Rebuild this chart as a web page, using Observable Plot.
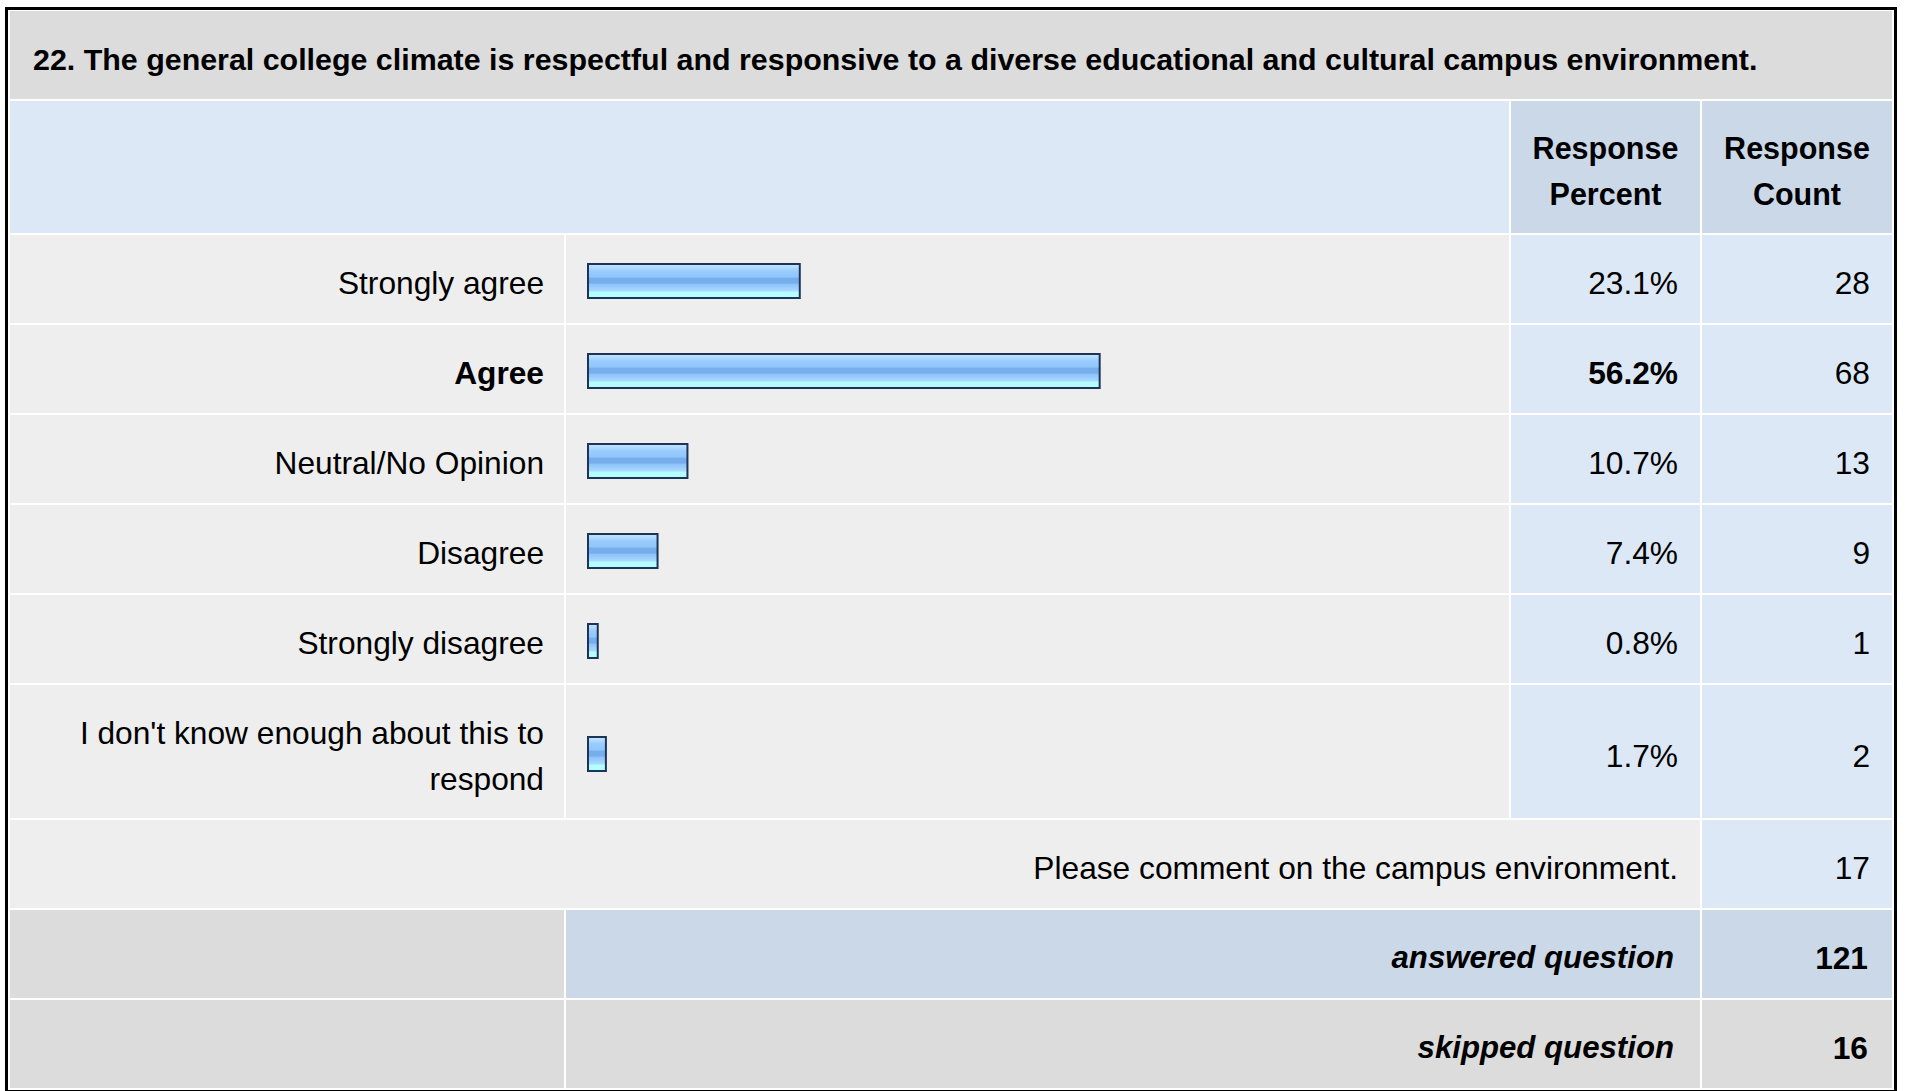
<!DOCTYPE html>
<html>
<head>
<meta charset="utf-8">
<script src="https://cdn.jsdelivr.net/npm/d3@7"></script>
<script src="https://cdn.jsdelivr.net/npm/@observablehq/plot@0.6"></script>
<style>
  html, body { margin: 0; padding: 0; background: #ffffff; }
  body { width: 1907px; height: 1091px; overflow: hidden; position: relative;
         font-family: "Liberation Sans", Arial, sans-serif; color: #000; }
  #box { position: absolute; left: 5px; top: 7px; border: 3px solid #000;
         padding: 1px 2px 2px 2px; background: #fff;
         display: grid; grid-template-columns: 554px 943px 189px 190px;
         grid-auto-rows: 88px; gap: 2px; }
  .cell { display: flex; align-items: center; font-size: 31.7px; line-height: 46px; box-sizing: border-box; padding-top: 8px; }
  .bar { padding-top: 0; }
  .title { grid-column: 1 / 5; background: #dcdcdc; font-weight: bold; font-size: 30.4px; padding-left: 23px; padding-top: 7px; }
  .hdrblank { grid-column: 1 / 3; background: #dce8f6; }
  .hdr { background: #cbd8e7; font-weight: bold; justify-content: center; text-align: center; font-size: 30.5px; }
  .lab { background: #eeeeee; justify-content: flex-end; text-align: right; padding-right: 20px; padding-left: 20px; }
  .lab span { max-width: 470px; }
  .bar { background: #eeeeee; }
  .pct { background: #dce8f6; justify-content: flex-end; padding-right: 22px; }
  .cnt { background: #dce8f6; justify-content: flex-end; padding-right: 22px; }
  .comment { grid-column: 1 / 4; background: #eeeeee; justify-content: flex-end; padding-right: 22px; }
  .sumL { background: #dcdcdc; }
  .sumM { grid-column: 2 / 4; justify-content: flex-end; padding-right: 26px; font-weight: bold; font-style: italic; font-size: 31.2px; }
  .sumC { justify-content: flex-end; padding-right: 24px; font-weight: bold; }
  .b { font-weight: bold; }
</style>
</head>
<body>
<svg width="0" height="0" style="position:absolute">
  <defs>
    <linearGradient id="barGrad" x1="0" y1="0" x2="0" y2="1">
      <stop offset="0" stop-color="#c6e4ff"/>
      <stop offset="0.12" stop-color="#b0d8ff"/>
      <stop offset="0.2" stop-color="#99ccff"/>
      <stop offset="0.38" stop-color="#90c6fa"/>
      <stop offset="0.42" stop-color="#76aeec"/>
      <stop offset="0.56" stop-color="#76aeec"/>
      <stop offset="0.6" stop-color="#8ec4f8"/>
      <stop offset="0.72" stop-color="#9fd0ff"/>
      <stop offset="0.8" stop-color="#acdcff"/>
      <stop offset="0.82" stop-color="#b3ffff"/>
      <stop offset="1" stop-color="#b3ffff"/>
    </linearGradient>
  </defs>
</svg>
<div id="box"></div>
<script>
const questionTitle = "22. The general college climate is respectful and responsive to a diverse educational and cultural campus environment.";
const headerLabels = ["Response\nPercent", "Response\nCount"];
const answers = ["Strongly agree", "Agree", "Neutral/No Opinion", "Disagree", "Strongly disagree", "I don't know enough about this to respond"];
const percents = [23.1, 56.2, 10.7, 7.4, 0.8, 1.7];
const counts = [28, 68, 13, 9, 1, 2];
const commentLabel = "Please comment on the campus environment.";
const commentCount = 17;
const summaryLabels = ["answered question", "skipped question"];
const summaryCounts = [121, 16];

const rows = answers.map((a, i) => ({label: a, pct: percents[i], count: counts[i]}));
const maxPct = d3.max(percents);
const box = document.getElementById("box");

function cell(cls, text, style) {
  const d = document.createElement("div");
  d.className = "cell " + cls;
  if (text != null) {
    const s = document.createElement("span");
    s.textContent = text;
    s.style.whiteSpace = "pre-line";
    d.appendChild(s);
  }
  if (style) Object.assign(d.style, style);
  box.appendChild(d);
  return d;
}

box.style.gridTemplateRows = "88px 132px 88px 88px 88px 88px 88px 133px 88px 88px 88px";

cell("title", questionTitle);
cell("hdrblank", null, {gridRow: "2"});
headerLabels.forEach(h => cell("hdr", h, {gridRow: "2"}));

rows.forEach((r, i) => {
  const tall = r.label.length > 30;
  const h = tall ? 133 : 88;
  const rowStyle = {gridRow: String(3 + i)};
  const bold = r.pct === maxPct ? " b" : "";
  cell("lab" + bold, r.label, rowStyle);
  const bc = cell("bar", null, rowStyle);
  const barH = 34;
  const top = (h - barH) / 2 + 2;
  bc.appendChild(Plot.plot({
    width: 943,
    height: h,
    margin: 0,
    style: {background: "transparent", overflow: "visible"},
    x: {domain: [0, 100], range: [22, 928], axis: null},
    y: {domain: [r.label], range: [top, top + barH], padding: 0, axis: null},
    marks: [
      Plot.barX([r], {x: "pct", y: "label", insetRight: -2.5, fill: "url(#barGrad)", stroke: "#1c3458", strokeWidth: 2})
    ]
  }));
  cell("pct" + bold, d3.format(".1f")(r.pct) + "%", rowStyle);
  cell("cnt", String(r.count), rowStyle);
});

cell("comment", commentLabel, {gridRow: "9"});
cell("cnt", String(commentCount), {gridRow: "9"});

const sumBg = ["#cbd8e7", "#dcdcdc"];
summaryLabels.forEach((lab, i) => {
  cell("sumL", null, {gridRow: String(10 + i)});
  cell("sumM", lab, {gridRow: String(10 + i), background: sumBg[i]});
  cell("sumC", String(summaryCounts[i]), {gridRow: String(10 + i), background: sumBg[i]});
});
</script>
</body>
</html>
